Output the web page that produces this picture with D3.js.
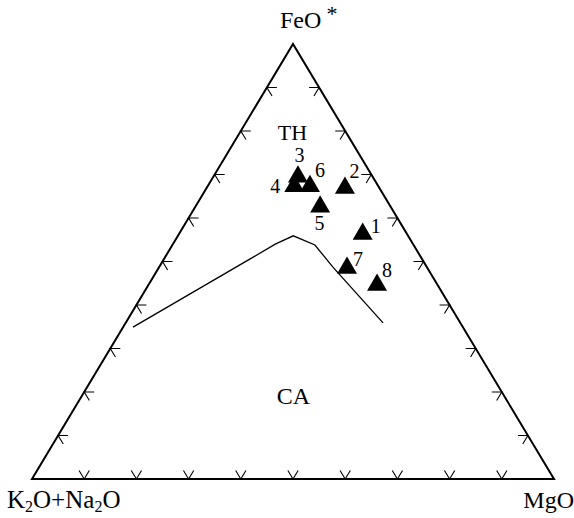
<!DOCTYPE html>
<html>
<head>
<meta charset="utf-8">
<script src="https://cdn.jsdelivr.net/npm/d3@7/dist/d3.min.js"></script>
<style>
  html, body { margin: 0; padding: 0; background: #fff; }
  svg { display: block; font-family: "Liberation Serif", "Times New Roman", serif; }
</style>
</head>
<body>
<svg id="chart" width="574" height="518"></svg>
<script>
// AFM diagram: sample compositions in percent (FeO*, MgO, K2O+Na2O)
const sampleIds = ["1", "2", "3", "4", "5", "6", "7", "8"];
const sampleFeO = [56.3, 66.9, 69.5, 67.3, 62.6, 67.3, 48.5, 44.6];
const sampleMgO = [35.2, 26.5, 16.2, 16.6, 23.9, 19.6, 36.1, 43.8];
const sampleAlk = sampleFeO.map((f, i) => +(100 - f - sampleMgO[i]).toFixed(1));

// Tholeiitic / calc-alkaline dividing line
const boundaryFeO = [34.9, 50.6, 54.0, 55.9, 53.8, 48.7, 35.9];
const boundaryMgO = [1.9, 16.5, 19.6, 22.1, 27.3, 33.3, 49.3];

// Tick values along each side
const tickValues = [10, 20, 30, 40, 50, 60, 70, 80, 90];

const svg = d3.select("#chart");

// FeO* runs bottom to apex; horizontal position follows MgO + FeO*/2
const yScale = d3.scaleLinear().domain([0, 100]).range([479, 44]);
const xScale = d3.scaleLinear().domain([0, 100]).range([32, 554]);
const project = (feo, mgo) => [xScale(mgo + feo / 2), yScale(feo)];

const L = project(0, 0), R = project(0, 100), T = project(100, 0);
const unit = (p, q) => {
  const dx = q[0] - p[0], dy = q[1] - p[1], n = Math.hypot(dx, dy);
  return [dx / n, dy / n];
};
const uLT = unit(L, T), uRT = unit(R, T);

// outline
svg.append("path")
  .attr("d", d3.line()([L, R, T, L]) + "Z")
  .attr("fill", "none")
  .attr("stroke", "#000")
  .attr("stroke-width", 2)
  .attr("stroke-linejoin", "miter");

// chevron ticks, arms parallel to the two other sides
const arm = 10;
const ticks = svg.append("g").attr("stroke", "#000").attr("stroke-width", 1.1).attr("fill", "none");
const chevron = (p, d1, d2) => {
  ticks.append("path").attr("d", d3.line()([
    [p[0] + arm * d1[0], p[1] + arm * d1[1]], p, [p[0] + arm * d2[0], p[1] + arm * d2[1]]
  ]));
};
tickValues.forEach(v => {
  chevron(project(0, v), uLT, uRT);                          // base
  chevron(project(v, 0), [1, 0], [-uRT[0], -uRT[1]]);        // left side
  chevron(project(v, 100 - v), [-1, 0], [-uLT[0], -uLT[1]]); // right side
});

// boundary curve
svg.append("path")
  .attr("d", d3.line()(boundaryFeO.map((f, i) => project(f, boundaryMgO[i]))))
  .attr("fill", "none")
  .attr("stroke", "#000")
  .attr("stroke-width", 1.3);

// samples
const tri = d3.symbol().type(d3.symbolTriangle).size(173);
const pts = sampleIds.map((id, i) => ({ id, p: project(sampleFeO[i], sampleMgO[i]) }));
svg.append("g").selectAll("path").data(pts).join("path")
  .attr("d", tri)
  .attr("transform", d => `translate(${d.p[0]},${d.p[1]})`)
  .attr("fill", "#000");

const labelOffsets = [[13, -1], [9.5, -10], [1.6, -15], [-19, 7], [-0.7, 23], [10, -9], [11, -2], [10, -8]];
svg.append("g").selectAll("text").data(pts).join("text")
  .attr("x", (d, i) => d.p[0] + labelOffsets[i][0])
  .attr("y", (d, i) => d.p[1] + labelOffsets[i][1])
  .attr("text-anchor", "middle")
  .attr("font-size", 20)
  .text(d => d.id);

// field names
svg.append("text").attr("x", 292.5).attr("y", 140).attr("text-anchor", "middle")
  .attr("font-size", 22).text("TH");
svg.append("text").attr("x", 293.5).attr("y", 404).attr("text-anchor", "middle")
  .attr("font-size", 24).text("CA");

// apex labels
svg.append("text").attr("x", 280).attr("y", 28).attr("font-size", 24).text("FeO");
svg.append("text").attr("x", 332).attr("y", 21).attr("text-anchor", "middle")
  .attr("font-size", 22).text("*");

const alk = svg.append("text").attr("x", 7).attr("y", 508).attr("font-size", 25);
alk.append("tspan").text("K");
alk.append("tspan").attr("font-size", 16).attr("dy", 3.5).text("2");
alk.append("tspan").attr("dy", -3.5).text("O+Na");
alk.append("tspan").attr("font-size", 16).attr("dy", 3.5).text("2");
alk.append("tspan").attr("dy", -3.5).text("O");

svg.append("text").attr("x", 574).attr("y", 508).attr("text-anchor", "end")
  .attr("font-size", 24).text("MgO");
</script>
</body>
</html>
